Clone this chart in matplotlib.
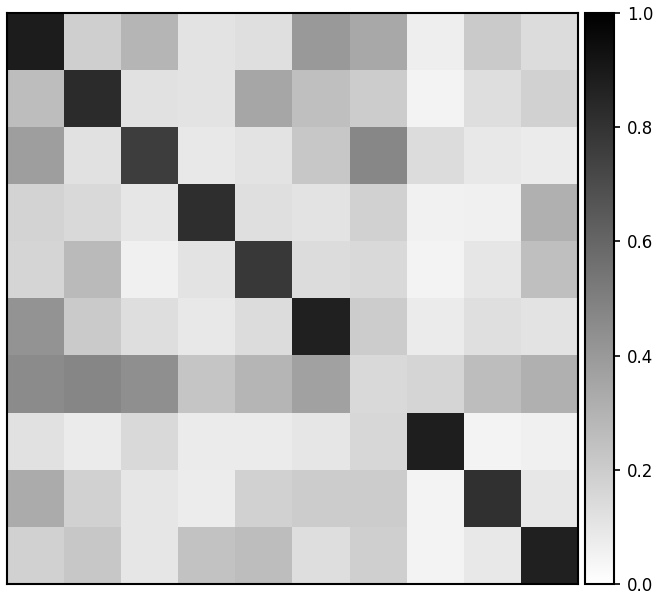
import numpy as np
import matplotlib
matplotlib.use("Agg")
import matplotlib.pyplot as plt

row0 = [0.89, 0.19, 0.29, 0.11, 0.125, 0.40, 0.34, 0.07, 0.21, 0.14]
row1 = [0.26, 0.83, 0.12, 0.11, 0.35, 0.25, 0.20, 0.05, 0.13, 0.18]
row2 = [0.38, 0.12, 0.76, 0.09, 0.11, 0.22, 0.47, 0.14, 0.09, 0.08]
row3 = [0.17, 0.15, 0.10, 0.82, 0.125, 0.11, 0.18, 0.055, 0.06, 0.31]
row4 = [0.165, 0.27, 0.06, 0.11, 0.78, 0.14, 0.15, 0.05, 0.10, 0.25]
row5 = [0.42, 0.21, 0.13, 0.09, 0.14, 0.87, 0.20, 0.08, 0.125, 0.11]
row6 = [0.455, 0.475, 0.44, 0.23, 0.29, 0.37, 0.15, 0.165, 0.26, 0.31]
row7 = [0.12, 0.08, 0.15, 0.08, 0.08, 0.10, 0.16, 0.88, 0.05, 0.06]
row8 = [0.33, 0.18, 0.10, 0.075, 0.18, 0.20, 0.20, 0.05, 0.81, 0.095]
row9 = [0.18, 0.22, 0.10, 0.24, 0.26, 0.13, 0.19, 0.05, 0.09, 0.87]

data = np.array([row0, row1, row2, row3, row4, row5, row6, row7, row8, row9])

fig = plt.figure(figsize=(6.64, 6.02), dpi=100)
ax = fig.add_axes([7/664, 18/602, 571/664, 571/602])
im = ax.imshow(data, cmap="gray_r", vmin=0, vmax=1, aspect="auto", interpolation="nearest")
ax.set_xticks([])
ax.set_yticks([])
for s in ax.spines.values():
    s.set_linewidth(1.5)

cax = fig.add_axes([585/664, 18/602, 29/664, 571/602])
cb = fig.colorbar(im, cax=cax)
cb.set_ticks([0.0, 0.2, 0.4, 0.6, 0.8, 1.0])
cb.ax.tick_params(labelsize=12, width=1.2, length=4.5, pad=5)
cb.outline.set_linewidth(1.5)

fig.savefig("out.png", dpi=100)
